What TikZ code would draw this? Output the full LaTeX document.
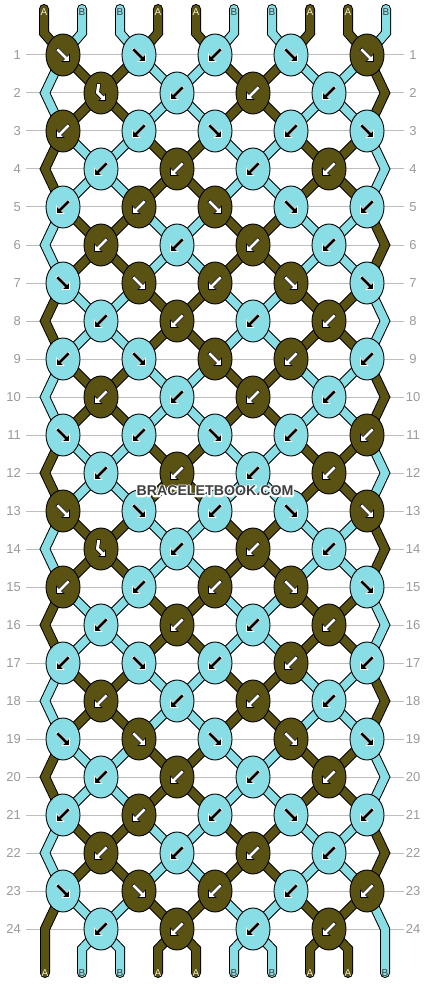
\documentclass[tikz,border=0pt]{standalone}
\usepackage{fontspec}
\setmainfont{Liberation Sans}
\usetikzlibrary{shapes.geometric}
\definecolor{cA}{HTML}{5A5212}
\definecolor{cB}{HTML}{88DEE4}
\definecolor{numgray}{HTML}{9A9A9A}
\definecolor{linegray}{HTML}{BDBDBD}
\definecolor{labA}{HTML}{F2ECCF}
\definecolor{labB}{HTML}{3C3C3C}
\definecolor{wmcol}{HTML}{3F3F3F}
\colorlet{arrfillA}{white}
\colorlet{arrlineA}{black}
\colorlet{arrfillB}{black}
\colorlet{arrlineB}{white}
\pgfdeclarelayer{lines}
\pgfdeclarelayer{strands}
\pgfsetlayers{lines,strands,main}

\newcommand\strand[2]{\draw[strandout] #2; \draw[strandin,draw=#1] #2;}
\newcommand\glyphr[1]{\path[fill=arrfill#1,draw=arrline#1,line width=0.6pt] (-4.73,-7.27) -- (4.02,1.48) -- (6.5,-1) -- (6.5,6.5) -- (-1,6.5) -- (1.48,4.02) -- (-7.27,-4.73) -- cycle;}
\newcommand\glyphl[1]{\path[fill=arrfill#1,draw=arrline#1,line width=0.6pt,xscale=-1] (-4.73,-7.27) -- (4.02,1.48) -- (6.5,-1) -- (6.5,6.5) -- (-1,6.5) -- (1.48,4.02) -- (-7.27,-4.73) -- cycle;}
\newcommand\glyphh[1]{%
  \draw[black,line width=4.4pt,line cap=rect] (-2.5,-7.5) -- (-3.5,-0.5) -- (1.2,4.2);
  \path[fill=white,draw=black,line width=0.6pt] (4.5,7.5) -- (-2,7.5) -- (4.5,1) -- cycle;
  \draw[white,line width=3pt,line cap=rect] (-2.5,-7.5) -- (-3.5,-0.5) -- (1.2,4.2);}
\newcommand\knotglyph[3]{\begin{scope}[shift={(#3.center)}]\csname glyph#2\endcsname{#1}\end{scope}}
\newcommand\halotext[1]{\special{pdf:literal direct 1 1 1 RG 3 w 1 j 1 Tr}#1\special{pdf:literal direct 0 Tr 1 w}}

\begin{document}
\begin{tikzpicture}[x=1pt,y=-1pt,
  knot/.style={ellipse,draw=black,line width=0.9pt,minimum width=34pt,minimum height=42pt,inner sep=0pt},
  strandout/.style={line width=10pt,draw=black,line cap=round,line join=miter},
  strandin/.style={line width=8pt,line cap=round,line join=miter},
  numlab/.style={font=\fontsize{13}{15}\selectfont,text=numgray,inner sep=0pt},
  endlab/.style={font=\fontsize{10}{12}\selectfont,inner sep=0pt},
  wmfont/.style={font=\bfseries\fontsize{14.2}{16}\selectfont,inner sep=0pt}]

\begin{pgfonlayer}{lines}
  \fill[white] (0,0) rectangle (430,984);
  \foreach \r in {1,...,24}{
    \pgfmathsetmacro\y{55+38*(\r-1)}
    \draw[linegray,line width=1pt] (26,\y) -- (404,\y);
  }
\end{pgfonlayer}
\path[use as bounding box] (0,0) rectangle (430,984);

% row numbers
\foreach \r in {1,...,24}{
  \pgfmathsetmacro\y{55+38*(\r-1)}
  \node[numlab,anchor=east] (nl\r) at (21,\y) {\r};
  \node[numlab] (nr\r) at (413,\y) {\r};
}

% knots
\foreach \r/\row in {
 1/{A/r,B/r,B/l,B/r,A/r},
 2/{A/h,B/l,A/l,B/l},
 3/{A/l,B/l,B/r,B/l,B/r},
 4/{B/l,A/l,B/l,A/l},
 5/{B/l,A/l,A/r,B/r,B/l},
 6/{A/l,B/l,A/l,B/l},
 7/{B/r,A/r,A/l,A/r,B/r},
 8/{B/l,A/l,B/l,A/l},
 9/{B/l,B/r,A/r,A/l,B/l},
 10/{A/l,B/l,A/l,B/l},
 11/{B/r,B/l,B/r,B/l,A/l},
 12/{B/l,A/l,B/l,A/l},
 13/{A/r,B/r,B/l,B/r,A/r},
 14/{A/h,B/l,A/l,B/l},
 15/{A/l,B/l,A/l,A/r,B/r},
 16/{B/l,A/l,B/l,A/l},
 17/{B/l,B/r,B/l,A/l,B/l},
 18/{A/l,B/l,A/l,B/l},
 19/{B/r,A/r,B/r,A/r,B/r},
 20/{B/l,A/l,B/l,A/l},
 21/{B/l,A/l,B/l,B/r,B/l},
 22/{A/l,B/l,A/l,B/l},
 23/{B/r,A/r,A/l,B/l,A/l},
 24/{B/l,A/l,B/l,A/l}}{
  \ifodd\r\relax \def\xo{63}\else\def\xo{101}\fi
  \foreach \c/\d [count=\q from 0] in \row {
    \node[knot,fill=c\c] (k\r-\q) at ({\xo+76*\q},{55+38*(\r-1)}) {};
    \knotglyph{\c}{\d}{k\r-\q}
  }
}

\begin{pgfonlayer}{strands}
  % top strands
  \foreach \k in {0,...,4}{
    \pgfmathsetmacro\xa{63+76*\k-19}
    \pgfmathsetmacro\xb{63+76*\k+19}
    \ifodd\k\relax \def\cl{cB}\def\cright{cA}\else\def\cl{cA}\def\cright{cB}\fi
    \strand{\cl}{(\xa,9) -- (\xa,33) -- (k1-\k.center)}
    \strand{\cright}{(\xb,9) -- (\xb,33) -- (k1-\k.center)}
  }
  % after odd rows
  \foreach \m in {1,...,12}{
    \pgfmathtruncatemacro\r{2*\m-1}
    \pgfmathtruncatemacro\rn{2*\m}
    \pgfmathtruncatemacro\rnn{2*\m+1}
    \pgfmathsetmacro\ye{55+38*(\rn-1)}
    \foreach \k in {0,...,4}{
      \pgfmathtruncatemacro\s{mod(\m+\k,2)}
      \ifnum\s=0 \def\cdl{cA}\def\cdr{cB}\else\def\cdl{cB}\def\cdr{cA}\fi
      \ifnum\k=0
        \ifnum\m<12
          \strand{\cdl}{(k\r-0.center) -- (45,\ye) -- (k\rnn-0.center)}
        \else
          \strand{\cdl}{(k\r-0.center) -- (45,929) -- (45,973)}
        \fi
      \else
        \pgfmathtruncatemacro\kk{\k-1}
        \strand{\cdl}{(k\r-\k.center) -- (k\rn-\kk.center)}
      \fi
      \ifnum\k=4
        \ifnum\m<12
          \strand{\cdr}{(k\r-4.center) -- (385,\ye) -- (k\rnn-4.center)}
        \else
          \strand{\cdr}{(k\r-4.center) -- (385,929) -- (385,973)}
        \fi
      \else
        \strand{\cdr}{(k\r-\k.center) -- (k\rn-\k.center)}
      \fi
    }
  }
  % after even rows
  \foreach \m in {1,...,12}{
    \pgfmathtruncatemacro\r{2*\m}
    \pgfmathtruncatemacro\rn{2*\m+1}
    \foreach \j in {0,...,3}{
      \pgfmathtruncatemacro\s{mod(\m+\j,2)}
      \ifnum\s=1 \def\cc{cA}\else\def\cc{cB}\fi
      \ifnum\m<12
        \pgfmathtruncatemacro\jj{\j+1}
        \strand{\cc}{(k\r-\j.center) -- (k\rn-\j.center)}
        \strand{\cc}{(k\r-\j.center) -- (k\rn-\jj.center)}
      \else
        \pgfmathsetmacro\xl{101+76*\j-19}
        \pgfmathsetmacro\xr{101+76*\j+19}
        \strand{\cc}{(k\r-\j.center) -- (\xl,949) -- (\xl,973)}
        \strand{\cc}{(k\r-\j.center) -- (\xr,949) -- (\xr,973)}
      \fi
    }
  }
\end{pgfonlayer}

% end labels
\foreach \x/\c [count=\q] in {44/A,82/B,120/B,158/A,196/A,234/B,272/B,310/A,348/A,386/B}{
  \node[endlab,text=lab\c] (tl\q) at (\x,12) {\c};
}
\foreach \x/\c [count=\q] in {45/A,82/B,120/B,158/A,196/A,234/B,272/B,310/A,348/A,385/B}{
  \node[endlab,text=lab\c] (bl\q) at (\x,973) {\c};
}

% watermark: white outline under dark text
\node[wmfont,text=white] (wmh) at (215,491) {\halotext{BRACELETBOOK.COM}};
\node[wmfont,text=wmcol] (wm) at (215,491) {BRACELETBOOK.COM};
\end{tikzpicture}
\end{document}
